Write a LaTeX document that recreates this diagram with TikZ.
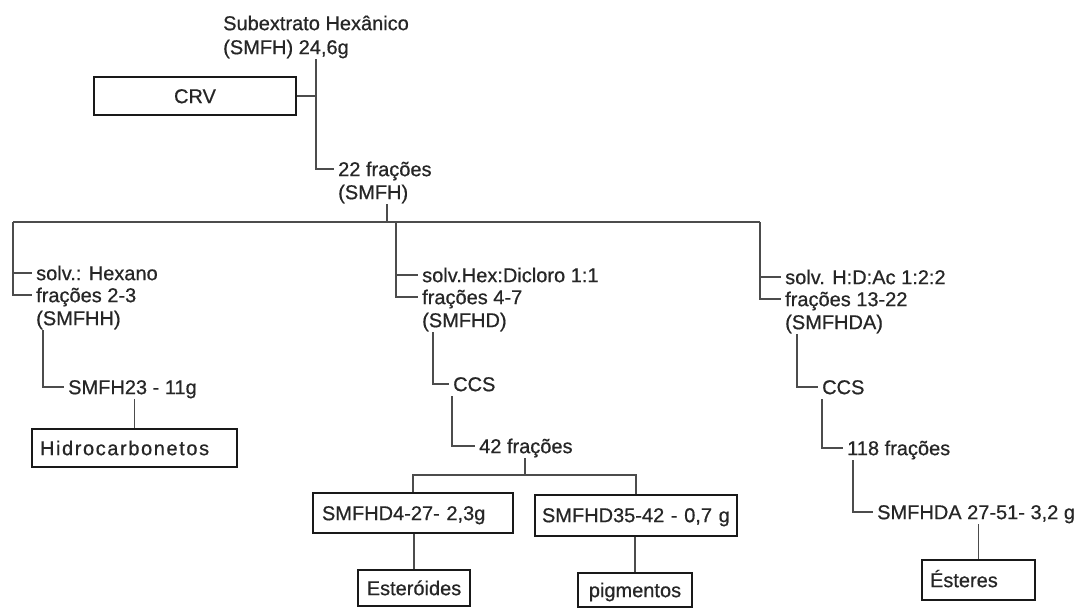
\documentclass[tikz,border=0pt]{standalone}
\usepackage{fontspec}
\setmainfont{Liberation Sans}[FakeBold=0.6]
\begin{document}
\begin{tikzpicture}[x=1pt,y=-1pt,
  lab/.style={anchor=west, inner xsep=4pt, inner ysep=5pt, text height=14.3pt, text depth=0pt,
    font=\fontsize{20}{23}\selectfont, text=black!85},
  conn/.style={draw=black!70, line width=1.1pt},
  boxn/.style={draw=black!90, line width=2pt, inner ysep=0pt, text height=14.3pt, text depth=0pt,
    font=\fontsize{20}{23}\selectfont, text=black!85}
]
\useasboundingbox[fill=white] (0,0) rectangle (1089,608);

% ---------- text labels ----------
\node[lab] (sub1) at (219,23) {Subextrato Hexânico};
\node[lab] (sub2) at (219,47) {(SMFH) 24,6g};
\node[lab] (f22) at (334,169) {22 frações};
\node[lab] (smfh) at (334,192) {(SMFH)};

\node[lab] (solvA) at (32,273) {solv.: Hexano};
\node[lab] (fracA) at (32,295) {frações 2-3};
\node[lab] (smfhh) at (32,318) {(SMFHH)};

\node[lab] (solvB) at (418,275) {solv.Hex:Dicloro 1:1};
\node[lab] (fracB) at (418,297) {frações 4-7};
\node[lab] (smfhd) at (418,320) {(SMFHD)};

\node[lab] (solvC) at (781,277) {solv. H:D:Ac 1:2:2};
\node[lab] (fracC) at (781,299) {frações 13-22};
\node[lab] (smfhda) at (781,322) {(SMFHDA)};

\node[lab] (smfh23) at (64,387) {SMFH23 - 11g};
\node[lab] (ccsB) at (449,384) {CCS};
\node[lab] (f42) at (475,446) {42 frações};
\node[lab] (ccsC) at (818,387) {CCS};
\node[lab] (f118) at (843,448) {118 frações};
\node[lab] (s2751) at (873,512) {SMFHDA 27-51- 3,2 g};

% ---------- boxes ----------
\node[boxn, inner xsep=8pt, text width=186pt, align=center, minimum height=38pt] (crv) at (195,96) {CRV};
\node[boxn, inner xsep=8pt, text width=189pt, align=left, minimum height=38pt] (hidro) at (134.5,448)
  {\addfontfeature{LetterSpace=8}Hidrocarbonetos};
\node[boxn, inner xsep=9pt, text width=182pt, align=left, minimum height=40pt] (d427) at (413,513) {SMFHD4-27- 2,3g};
\node[boxn, inner xsep=7pt, text width=188pt, align=left, minimum height=41pt] (d3542) at (636,515) {SMFHD35-42 - 0,7 g};
\node[boxn, inner xsep=4pt, text width=104pt, align=center, minimum height=36pt] (est) at (414,588) {Esteróides};
\node[boxn, inner xsep=4pt, text width=106pt, align=center, minimum height=34pt] (pigm) at (635,590) {pigmentos};
\node[boxn, inner xsep=8pt, text width=97pt, align=left, minimum height=40pt] (ester) at (978.5,580) {Ésteres};

% ---------- junction coordinates ----------
\coordinate (v1) at (316,0);
\coordinate (v2) at (387,0);
\coordinate (hL) at (13,222);
\coordinate (hM) at (396,222);
\coordinate (hR) at (760,222);
\coordinate (v3) at (43,0);
\coordinate (v4) at (433,0);
\coordinate (v5) at (452,0);
\coordinate (v6) at (525,0);
\coordinate (bar2) at (0,475);
\coordinate (v7) at (797,0);
\coordinate (v8) at (822,0);
\coordinate (v9) at (853,0);

% ---------- connectors ----------
\draw[conn] (sub2.south -| v1) |- (f22.west);
\draw[conn] (crv.east) -- (crv.east -| v1);
\draw[conn] (smfh.south -| v2) -- (v2 |- hL);
\draw[conn] (hL) -- (hR);
\draw[conn] (hL) |- (fracA.west);
\draw[conn] (solvA.west -| hL) -- (solvA.west);
\draw[conn] (hM) |- (fracB.west);
\draw[conn] (solvB.west -| hM) -- (solvB.west);
\draw[conn] (hR) |- (fracC.west);
\draw[conn] (solvC.west -| hR) -- (solvC.west);

\draw[conn] (smfhh.south -| v3) |- (smfh23.west);
\draw[conn] (hidro.north |- smfh23.south) -- (hidro.north);

\draw[conn] (smfhd.south -| v4) |- (ccsB.west);
\draw[conn] (ccsB.south -| v5) |- (f42.west);
\draw[conn] (f42.south -| v6) -- (v6 |- bar2);
\draw[conn] (d427.north) -- (d427.north |- bar2) -- (d3542.north |- bar2) -- (d3542.north);
\draw[conn] (est.north |- d427.south) -- (est.north);
\draw[conn] (pigm.north |- d3542.south) -- (pigm.north);

\draw[conn] (smfhda.south -| v7) |- (ccsC.west);
\draw[conn] (ccsC.south -| v8) |- (f118.west);
\draw[conn] (f118.south -| v9) |- (s2751.west);
\draw[conn] (ester.north |- s2751.south) -- (ester.north);
\end{tikzpicture}
\end{document}
